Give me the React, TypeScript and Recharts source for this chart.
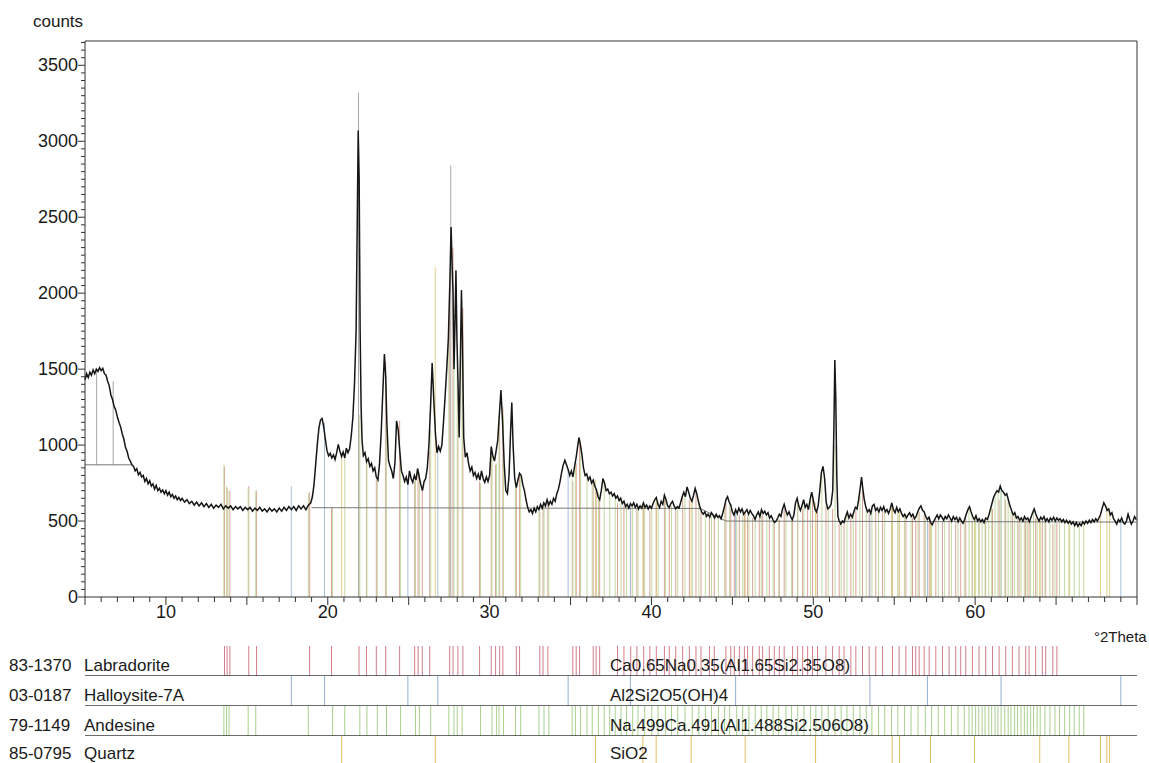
import React from "react";
import { ComposedChart, Line, XAxis, YAxis, ReferenceLine } from "recharts";

const W = 1149;
const FONT = '"Liberation Sans", Arial, Helvetica, sans-serif';

// measured scan, [°2Theta, counts]
const scanLow: [number, number][] = [
  [5.0, 1430], [5.1, 1470], [5.2, 1445], [5.3, 1480], [5.4, 1460], [5.5, 1495], [5.6, 1470], [5.7, 1500],
  [5.8, 1485], [5.9, 1510], [6.0, 1490], [6.1, 1505], [6.2, 1470], [6.3, 1460], [6.4, 1420], [6.5, 1390],
  [6.6, 1330], [6.7, 1300], [6.8, 1255], [6.9, 1230], [7.0, 1185], [7.1, 1150], [7.2, 1120], [7.3, 1075],
  [7.4, 1040], [7.5, 985], [7.6, 960], [7.7, 915], [7.8, 895], [7.9, 870], [8.0, 860], [8.1, 830],
  [8.2, 845], [8.3, 805], [8.4, 820], [8.5, 790], [8.6, 800], [8.7, 760], [8.8, 780], [8.9, 745],
  [9.0, 765], [9.1, 730], [9.2, 745], [9.3, 710], [9.4, 735], [9.5, 700], [9.6, 715], [9.7, 690],
  [9.8, 705], [9.9, 680], [10.0, 700], [10.1, 670], [10.2, 690], [10.3, 660], [10.4, 675], [10.5, 650],
  [10.6, 665], [10.7, 640], [10.8, 655], [10.9, 635], [11.0, 650], [11.15, 625], [11.3, 640], [11.45, 615],
  [11.6, 630], [11.75, 605], [11.9, 625], [12.05, 600], [12.2, 620], [12.35, 595], [12.5, 615], [12.65, 590],
  [12.8, 610], [12.95, 585], [13.1, 605], [13.25, 590], [13.4, 610], [13.55, 580], [13.7, 600], [13.85, 585],
  [14.0, 600], [14.15, 575], [14.3, 595], [14.45, 580], [14.6, 595], [14.75, 570], [14.9, 590], [15.05, 575],
  [15.2, 590], [15.35, 565], [15.5, 585], [15.65, 570], [15.8, 590], [15.95, 565], [16.1, 580], [16.25, 560],
  [16.4, 585], [16.55, 565], [16.7, 580], [16.85, 560], [17.0, 585], [17.15, 565], [17.3, 590], [17.45, 570],
  [17.6, 595], [17.75, 575], [17.9, 595], [18.05, 570], [18.2, 600], [18.35, 580], [18.5, 600], [18.65, 575],
  [18.8, 605], [18.95, 620],
];

const scanPeaks: [number, number][] = [
  [19.05, 660], [19.15, 740], [19.25, 870], [19.35, 1000], [19.45, 1110], [19.55, 1165], [19.65, 1175], [19.75, 1120],
  [19.85, 1040], [19.95, 965], [20.05, 930], [20.15, 945], [20.25, 915], [20.35, 935], [20.45, 905], [20.55, 950],
  [20.65, 1005], [20.75, 960], [20.85, 925], [20.95, 955], [21.05, 915], [21.15, 980], [21.25, 950], [21.35, 975],
  [21.45, 1060], [21.55, 1180], [21.65, 1400], [21.75, 1750], [21.82, 2450], [21.88, 3070], [21.94, 2750], [22.0, 1750],
  [22.06, 1250], [22.12, 1030], [22.2, 930], [22.3, 950], [22.4, 890], [22.5, 910], [22.6, 860], [22.7, 880],
  [22.8, 830], [22.9, 850], [23.0, 790], [23.1, 770], [23.2, 880], [23.3, 1080], [23.4, 1350], [23.5, 1600],
  [23.58, 1450], [23.65, 1150], [23.75, 900], [23.85, 860], [23.95, 830], [24.05, 780], [24.15, 880], [24.25, 1160],
  [24.35, 1100], [24.45, 960], [24.55, 830], [24.65, 800], [24.75, 760], [24.85, 790], [24.95, 740], [25.05, 830],
  [25.15, 780], [25.25, 755], [25.35, 800], [25.45, 770], [25.55, 845], [25.65, 790], [25.75, 740], [25.85, 700],
  [25.95, 760], [26.05, 780], [26.15, 850], [26.25, 1000], [26.35, 1250], [26.45, 1540], [26.55, 1300], [26.65, 1080],
  [26.75, 950], [26.85, 990], [26.95, 960], [27.05, 1000], [27.15, 1150], [27.25, 1320], [27.35, 1500], [27.45, 1700],
  [27.55, 2100], [27.62, 2435], [27.68, 2200], [27.74, 2000], [27.8, 1500], [27.86, 1800], [27.92, 2150], [27.98, 1700],
  [28.05, 1400], [28.12, 1050], [28.2, 1600], [28.26, 2020], [28.32, 1700], [28.4, 1050], [28.5, 920], [28.6, 950],
  [28.7, 880], [28.8, 830], [28.9, 855], [29.0, 800], [29.1, 820], [29.2, 780], [29.3, 810], [29.4, 770],
  [29.5, 830], [29.6, 780], [29.7, 755], [29.8, 790], [29.9, 760], [30.0, 800], [30.1, 990], [30.2, 930],
  [30.3, 895], [30.4, 960], [30.5, 1030], [30.6, 1200], [30.7, 1362], [30.8, 1150], [30.9, 880], [31.0, 700],
  [31.1, 680], [31.2, 800], [31.3, 1100], [31.37, 1280], [31.45, 1000], [31.55, 780], [31.65, 720], [31.75, 770],
  [31.85, 815], [31.95, 800], [32.05, 740], [32.15, 700], [32.25, 640], [32.35, 590], [32.45, 560], [32.55, 575],
  [32.65, 550], [32.75, 585], [32.85, 560], [32.95, 595],
];

const scanHigh: [number, number][] = [
  [33.05, 575], [33.15, 610], [33.25, 585], [33.35, 620], [33.45, 600], [33.55, 640], [33.65, 605], [33.75, 630],
  [33.85, 610], [33.95, 650], [34.05, 630], [34.15, 680], [34.25, 710], [34.35, 760], [34.45, 820], [34.55, 870],
  [34.65, 900], [34.75, 870], [34.85, 840], [34.95, 800], [35.05, 830], [35.15, 790], [35.25, 860], [35.35, 920],
  [35.45, 1000], [35.52, 1050], [35.6, 1010], [35.7, 940], [35.8, 850], [35.9, 800], [36.0, 810], [36.1, 770],
  [36.2, 790], [36.3, 750], [36.4, 770], [36.5, 730], [36.6, 705], [36.7, 660], [36.8, 640], [36.9, 700],
  [37.0, 780], [37.1, 750], [37.2, 700], [37.3, 710], [37.4, 680], [37.5, 690], [37.6, 665], [37.7, 680],
  [37.8, 650], [37.9, 665], [38.0, 635], [38.1, 650], [38.2, 615], [38.3, 630], [38.4, 595], [38.5, 610],
  [38.6, 585], [38.7, 615], [38.8, 600], [38.9, 620], [39.0, 590], [39.1, 610], [39.2, 580], [39.3, 600],
  [39.4, 585], [39.5, 620], [39.6, 590], [39.7, 605], [39.8, 580], [39.9, 600], [40.0, 585], [40.1, 615],
  [40.2, 640], [40.3, 655], [40.4, 610], [40.5, 590], [40.6, 630], [40.7, 610], [40.8, 670], [40.9, 640],
  [41.0, 600], [41.1, 590], [41.2, 615], [41.3, 630], [41.4, 600], [41.5, 580], [41.6, 595], [41.7, 585],
  [41.8, 620], [41.9, 660], [42.0, 690], [42.1, 660], [42.2, 725], [42.3, 690], [42.4, 650], [42.5, 630],
  [42.6, 670], [42.7, 715], [42.8, 680], [42.9, 630], [43.0, 590], [43.1, 560], [43.2, 545], [43.3, 560],
  [43.4, 530], [43.5, 545], [43.6, 525], [43.7, 555], [43.8, 540], [43.9, 520], [44.0, 545], [44.1, 525],
  [44.2, 535], [44.3, 515], [44.4, 550], [44.5, 590], [44.6, 640], [44.7, 660], [44.8, 625], [44.9, 605],
  [45.0, 560], [45.1, 540], [45.2, 575], [45.3, 550], [45.4, 585], [45.5, 560], [45.6, 580], [45.7, 545],
  [45.8, 560], [45.9, 575], [46.0, 545], [46.1, 570], [46.2, 550], [46.3, 535], [46.4, 510], [46.5, 540],
  [46.6, 560], [46.7, 530], [46.8, 575], [46.9, 550], [47.0, 565], [47.1, 540], [47.2, 555], [47.3, 520],
  [47.4, 535], [47.5, 510], [47.6, 490], [47.7, 500], [47.8, 520], [47.9, 545], [48.0, 530], [48.1, 580],
  [48.2, 610], [48.3, 570], [48.4, 540], [48.5, 560], [48.6, 530], [48.7, 510], [48.8, 540], [48.9, 620],
  [49.0, 650], [49.1, 600], [49.2, 570], [49.3, 600], [49.4, 640], [49.5, 590], [49.6, 610], [49.7, 575],
  [49.8, 640], [49.9, 690], [50.0, 640], [50.1, 580], [50.2, 560], [50.3, 600], [50.4, 700], [50.5, 820],
  [50.6, 860], [50.7, 780], [50.8, 620], [50.9, 580], [51.0, 590], [51.1, 610], [51.2, 700], [51.27, 1100],
  [51.33, 1560], [51.39, 1300], [51.45, 800], [51.52, 530], [51.6, 500], [51.7, 480], [51.8, 500], [51.9, 490],
  [52.0, 530], [52.1, 560], [52.2, 520], [52.3, 545], [52.4, 525], [52.5, 560], [52.6, 590], [52.7, 580],
  [52.8, 640], [52.9, 720], [52.98, 790], [53.05, 720], [53.15, 640], [53.25, 590], [53.35, 560], [53.45, 575],
  [53.55, 550], [53.65, 600], [53.75, 610], [53.85, 570], [53.95, 585], [54.05, 560], [54.15, 590], [54.25, 570],
  [54.35, 595], [54.45, 560], [54.55, 575], [54.65, 550], [54.75, 580], [54.85, 620], [54.95, 575], [55.05, 555],
  [55.15, 590], [55.25, 560], [55.35, 580], [55.45, 550], [55.55, 530], [55.65, 545], [55.75, 520], [55.85, 540],
  [55.95, 555], [56.05, 530], [56.15, 545], [56.25, 515], [56.35, 530], [56.45, 560], [56.55, 585], [56.65, 600],
  [56.75, 570], [56.85, 560], [56.95, 530], [57.05, 510], [57.15, 525], [57.25, 490], [57.35, 475], [57.45, 500],
  [57.55, 520], [57.65, 540], [57.75, 515], [57.85, 540], [57.95, 525], [58.05, 505], [58.15, 530], [58.25, 515],
  [58.35, 540], [58.45, 520], [58.55, 500], [58.65, 530], [58.75, 510], [58.85, 525], [58.95, 495], [59.05, 520],
  [59.15, 500], [59.25, 485], [59.35, 510], [59.45, 545], [59.55, 575], [59.65, 595], [59.75, 560], [59.85, 530],
  [59.95, 510], [60.05, 535], [60.15, 500], [60.25, 515], [60.35, 495], [60.45, 510], [60.55, 490], [60.65, 520],
  [60.75, 510], [60.85, 540], [60.95, 580], [61.05, 620], [61.15, 660], [61.25, 680], [61.35, 700], [61.45, 690],
  [61.55, 730], [61.65, 700], [61.75, 690], [61.85, 670], [61.95, 680], [62.05, 640], [62.15, 600], [62.25, 570],
  [62.35, 540], [62.45, 555], [62.55, 520], [62.65, 530], [62.75, 505], [62.85, 520], [62.95, 500], [63.05, 530],
  [63.15, 510], [63.25, 520], [63.35, 495], [63.45, 525], [63.55, 555], [63.65, 580], [63.75, 545], [63.85, 520],
  [63.95, 500], [64.05, 525], [64.15, 510], [64.25, 530], [64.35, 500], [64.45, 515], [64.55, 495], [64.65, 520],
  [64.75, 505], [64.85, 525], [64.95, 500], [65.05, 520], [65.15, 505], [65.25, 515], [65.35, 495], [65.45, 510],
  [65.55, 490], [65.65, 505], [65.75, 485], [65.85, 500], [65.95, 480], [66.05, 495], [66.15, 470], [66.25, 490],
  [66.35, 465], [66.45, 485], [66.55, 470], [66.65, 495], [66.75, 480], [66.85, 500], [66.95, 485], [67.05, 505],
  [67.15, 490], [67.25, 510], [67.35, 495], [67.45, 515], [67.55, 500], [67.65, 520], [67.75, 545], [67.85, 585],
  [67.95, 620], [68.05, 600], [68.15, 570], [68.25, 580], [68.35, 540], [68.45, 555], [68.55, 515], [68.65, 500],
  [68.75, 480], [68.85, 510], [68.95, 495], [69.05, 520], [69.15, 490], [69.25, 480], [69.35, 500], [69.45, 545],
  [69.55, 510], [69.65, 480], [69.75, 500], [69.85, 530], [69.95, 510],
];

// fitted background
const backgroundLow: [number, number][] = [[5.0, 870], [7.85, 870]];
const backgroundHigh: [number, number][] = [[19.0, 588], [43.0, 583], [44.6, 500], [70.0, 493]];

// reference patterns, [position, height in the scan panel]
const labradorite: [number, number][] = [
  [13.62, 860], [13.78, 720], [13.95, 700], [15.12, 730], [15.6, 700], [18.88, 690], [20.23, 585], [21.93, 1150],
  [22.39, 900], [23.0, 770], [23.58, 1550], [24.44, 1160], [25.37, 760], [25.58, 850], [25.84, 700], [26.3, 960],
  [27.53, 1900], [27.74, 2300], [28.04, 1350], [28.35, 1900], [29.38, 760], [30.1, 980], [30.37, 870], [30.62, 1150],
  [30.82, 1250], [31.65, 740], [31.85, 800], [33.1, 560], [33.3, 600], [33.6, 620], [35.14, 760], [35.35, 880],
  [35.56, 1030], [36.4, 760], [36.58, 700], [36.8, 630], [37.9, 620], [38.3, 600], [38.72, 590], [39.1, 580],
  [39.52, 600], [39.9, 570], [40.3, 620], [40.8, 640], [41.1, 580], [41.5, 570], [41.93, 650], [42.34, 640],
  [42.75, 690], [43.06, 560], [43.58, 520], [43.88, 510], [44.6, 620], [44.9, 580], [45.12, 540], [45.43, 540],
  [45.74, 560], [45.94, 530], [46.25, 520], [46.66, 520], [46.87, 540], [47.28, 510], [47.59, 480], [47.9, 510],
  [48.2, 580], [48.72, 510], [49.03, 620], [49.34, 580], [49.65, 590], [49.95, 660], [50.26, 560], [50.78, 600],
  [51.19, 580], [51.6, 480], [51.9, 480], [52.32, 520], [52.63, 570], [53.04, 700], [53.45, 550], [53.86, 560],
  [54.28, 560], [54.89, 580], [55.3, 540], [55.72, 510], [56.13, 520], [56.33, 510], [56.54, 560], [56.85, 540],
  [57.16, 500], [57.57, 510], [57.98, 500], [58.39, 510], [58.8, 500], [59.11, 490], [59.42, 520], [59.83, 500],
  [60.24, 490], [60.65, 500], [61.07, 580], [61.48, 640], [61.89, 640], [62.3, 530], [62.71, 500], [63.12, 500],
  [63.33, 490], [63.74, 520], [64.15, 500], [64.36, 490], [64.8, 480], [65.05, 490],
];

const halloysite: [number, number][] = [
  [17.75, 730], [19.8, 1150], [24.95, 760], [26.8, 990], [34.85, 840], [38.7, 600], [45.2, 560], [53.5, 540],
  [57.05, 500], [61.6, 720], [69.0, 500],
];

const andesine: [number, number][] = [
  [13.58, 870], [13.74, 730], [13.9, 700], [15.08, 720], [15.55, 700], [18.8, 680], [20.3, 590], [21.05, 920],
  [21.98, 1200], [22.42, 880], [23.06, 760], [23.63, 1400], [24.5, 950], [25.42, 780], [25.66, 820], [26.36, 1100],
  [27.48, 1750], [27.8, 1900], [28.0, 1500], [28.3, 1850], [29.44, 750], [30.15, 960], [30.42, 880], [30.58, 1200],
  [30.86, 1200], [31.6, 760], [31.92, 790], [33.05, 570], [33.36, 610], [33.66, 630], [35.1, 780], [35.3, 860],
  [35.62, 1000], [36.02, 790], [36.34, 750], [36.72, 690], [37.08, 760], [37.42, 690], [37.76, 670], [38.12, 640],
  [38.46, 610], [38.84, 600], [39.17, 600], [39.58, 610], [40.02, 590], [40.41, 630], [40.86, 660], [41.24, 600],
  [41.62, 580], [42.07, 670], [42.52, 640], [42.93, 630], [43.33, 540], [43.71, 530], [44.14, 520], [44.52, 580],
  [44.83, 620], [45.27, 540], [45.64, 560], [46.02, 540], [46.41, 530], [46.78, 560], [47.13, 530], [47.52, 500],
  [47.86, 510], [48.31, 560], [48.66, 520], [49.04, 630], [49.42, 600], [49.83, 650], [50.16, 580], [50.53, 800],
  [50.92, 590], [51.34, 1000], [51.72, 470], [52.08, 540], [52.47, 540], [52.88, 700], [53.27, 580], [53.62, 580],
  [54.03, 550], [54.41, 580], [54.83, 600], [55.22, 550], [55.63, 530], [56.04, 520], [56.47, 570], [56.92, 540],
  [57.31, 480], [57.72, 520], [58.12, 520], [58.53, 510], [58.94, 500], [59.33, 500], [59.62, 580], [59.81, 540],
  [60.03, 520], [60.22, 500], [60.43, 500], [60.61, 490], [60.84, 520], [61.02, 600], [61.23, 670], [61.41, 690],
  [61.6, 700], [61.83, 660], [62.04, 630], [62.21, 560], [62.44, 540], [62.62, 520], [62.83, 510], [63.04, 520],
  [63.22, 510], [63.43, 510], [63.61, 560], [63.83, 530], [64.02, 510], [64.31, 510], [64.62, 500], [64.93, 500],
  [65.21, 500], [65.53, 490], [65.84, 480], [66.12, 470], [66.43, 470], [66.71, 480],
];

const quartz: [number, number][] = [
  [20.86, 950], [26.64, 2170], [36.54, 770], [39.47, 600], [40.29, 640], [42.45, 650], [45.79, 560], [50.14, 620],
  [54.87, 600], [55.33, 560], [57.24, 500], [59.96, 520], [63.99, 500], [65.79, 470], [67.74, 540], [68.14, 600],
  [68.31, 560],
];

// peak markers, [position, from, to]
const peakMarks: [number, number, number][] = [
  [5.72, 870, 1500], [6.74, 870, 1420], [21.9, 0, 3320], [27.6, 0, 2840],
];

const xLabels = [10, 20, 30, 40, 50, 60];

const phases = [
  { code: "83-1370", name: "Labradorite", formula: "Ca0.65Na0.35(Al1.65Si2.35O8)", sticks: labradorite, main: "#d9a596", strip: "#d27d8b" },
  { code: "03-0187", name: "Halloysite-7A", formula: "Al2Si2O5(OH)4", sticks: halloysite, main: "#a9c1dc", strip: "#93afd3" },
  { code: "79-1149", name: "Andesine", formula: "Na.499Ca.491(Al1.488Si2.506O8)", sticks: andesine, main: "#c5d9a3", strip: "#a9d08e" },
  { code: "85-0795", name: "Quartz", formula: "SiO2", sticks: quartz, main: "#e2cf8a", strip: "#e4c061" },
];

const X_MIN = 5;
const X_MAX = 70;
const Y_MAX = 3660;

const scan = [...scanLow, ...scanPeaks, ...scanHigh].map(([t, c]) => ({ t, c }));
const toPts = (arr: [number, number][]) => arr.map(([t, c]) => ({ t, c }));

const xTicks = Array.from({ length: X_MAX - X_MIN + 1 }, (_, i) => X_MIN + i);
const yTicks = Array.from({ length: 74 }, (_, i) => i * 50);

const XTick = (props: any) => {
  const { x, y, payload } = props;
  const v = Number(payload.value);
  const major = Math.round(v) % 5 === 0;
  const showLabel = xLabels.includes(Math.round(v));
  return (
    <g>
      <line x1={x} x2={x} y1={y} y2={y + (major ? 8 : 5)} stroke="#333" />
      {showLabel ? (
        <text x={x} y={y + 21} textAnchor="middle" fontSize={18} fill="#1a1a1a" style={{ fontFamily: FONT }}>
          {String(Math.round(v))}
        </text>
      ) : null}
    </g>
  );
};

const YTick = (props: any) => {
  const { x, y, payload } = props;
  const v = payload.value;
  const major = v % 500 === 0;
  return (
    <g>
      <line x1={x} x2={x - (major ? 7 : 4)} y1={y} y2={y} stroke="#333" />
      {major && (
        <text x={x - 7} y={y + 6} textAnchor="end" fontSize={18} fill="#1a1a1a" style={{ fontFamily: FONT }}>
          {v}
        </text>
      )}
    </g>
  );
};

const Strip = ({ sticks, color, top }: { sticks: [number, number][]; color: string; top: number }) => (
  <div style={{ position: "absolute", left: 0, top }}>
    <ComposedChart width={W} height={30} margin={{ top: 0, right: 12, bottom: 0, left: 0 }} data={[{ t: X_MIN, v: 0 }, { t: X_MAX, v: 0 }]}>
      <XAxis type="number" dataKey="t" domain={[X_MIN, X_MAX]} hide />
      <YAxis type="number" domain={[0, 1]} width={85} tick={false} tickLine={false} axisLine={false} />
      {sticks.map(([t], i) => (
        <ReferenceLine key={i} segment={[{ x: t, y: 0 }, { x: t, y: 1 }]} stroke={color} strokeWidth={1} />
      ))}
      <ReferenceLine y={0} stroke="#3a3a3a" strokeWidth={1.3} />
      <Line dataKey="v" stroke="none" dot={false} isAnimationActive={false} />
    </ComposedChart>
  </div>
);

const label = (text: string, left: number, top: number, size = 17) => (
  <span style={{ position: "absolute", left, top, fontSize: size, lineHeight: 1, whiteSpace: "nowrap", color: "#1a1a1a" }}>
    {text}
  </span>
);

const rowTops = [657, 687, 717, 745];

export default function App() {
  return (
    <div style={{ position: "absolute", left: 0, top: 0, width: W, height: 763, overflow: "hidden", background: "#fff", fontFamily: FONT }}>
      <ComposedChart width={W} height={640} data={scan} margin={{ top: 41, right: 12, bottom: 13, left: 0 }}>
        <XAxis
          type="number"
          dataKey="t"
          domain={[X_MIN, X_MAX]}
          ticks={xTicks}
          interval={0}
          height={30}
          tickSize={0}
          tickMargin={0}
          tickLine={false}
          axisLine={{ stroke: "#333" }}
          tick={<XTick />}
        />
        <YAxis
          type="number"
          domain={[0, Y_MAX]}
          ticks={yTicks}
          interval={0}
          width={85}
          tickSize={0}
          tickMargin={0}
          tickLine={false}
          axisLine={{ stroke: "#333" }}
          tick={<YTick />}
        />
        {phases.map((p) =>
          p.sticks.map(([t, h], i) => (
            <ReferenceLine key={p.code + i} segment={[{ x: t, y: 0 }, { x: t, y: h }]} stroke={p.main} strokeWidth={1} />
          ))
        )}
        {peakMarks.map(([t, a, b], i) => (
          <ReferenceLine key={"pk" + i} segment={[{ x: t, y: a }, { x: t, y: b }]} stroke="#a8a8a8" strokeWidth={1} />
        ))}
        <ReferenceLine y={Y_MAX} stroke="#333" />
        <ReferenceLine x={X_MAX} stroke="#333" />
        <Line data={toPts(backgroundLow)} dataKey="c" type="linear" stroke="#777" strokeWidth={1} dot={false} isAnimationActive={false} />
        <Line data={toPts(backgroundHigh)} dataKey="c" type="linear" stroke="#777" strokeWidth={1} dot={false} isAnimationActive={false} />
        <Line dataKey="c" type="linear" stroke="#161616" strokeWidth={1.5} dot={false} isAnimationActive={false} />
      </ComposedChart>

      {phases.map((p, i) => (
        <Strip key={p.code} sticks={p.sticks} color={p.strip} top={646 + i * 30} />
      ))}

      {label("counts", 33, 13, 17)}
      {label("°2Theta", 1094, 629, 15)}
      {phases.map((p, i) => (
        <React.Fragment key={p.code + "t"}>
          {label(p.code, 9, rowTops[i])}
          {label(p.name, 84, rowTops[i])}
          {label(p.formula, 610, rowTops[i])}
        </React.Fragment>
      ))}
    </div>
  );
}
